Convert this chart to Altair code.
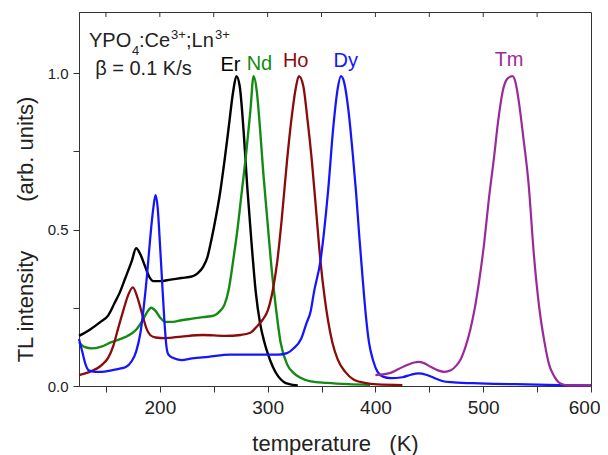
import altair as alt
import pandas as pd

# ---- data ----
er_T = [125, 135, 145, 152, 158, 163, 168, 174, 178, 182, 186, 190, 194, 200, 210, 220, 230, 235, 240, 244, 248, 252, 256, 260, 264, 268, 271, 274, 278, 281, 285, 289, 293, 297, 300, 305, 310, 315, 320, 328]
er_I = [0.16, 0.18, 0.205, 0.225, 0.265, 0.30, 0.345, 0.40, 0.44, 0.42, 0.385, 0.35, 0.335, 0.335, 0.34, 0.345, 0.35, 0.36, 0.38, 0.41, 0.47, 0.54, 0.62, 0.72, 0.83, 0.94, 0.99, 0.96, 0.80, 0.64, 0.46, 0.30, 0.20, 0.14, 0.105, 0.06, 0.03, 0.013, 0.006, 0.002]

nd_T = [125, 130, 137, 145, 155, 163, 170, 178, 184, 188, 192, 196, 200, 205, 212, 220, 230, 240, 250, 256, 260, 264, 268, 272, 276, 280, 284, 287, 290, 293, 296, 300, 303, 307, 312, 318, 324, 330, 340, 355, 375, 395]
nd_I = [0.14, 0.125, 0.12, 0.125, 0.14, 0.15, 0.16, 0.18, 0.21, 0.235, 0.25, 0.24, 0.22, 0.205, 0.205, 0.21, 0.215, 0.22, 0.225, 0.24, 0.26, 0.31, 0.40, 0.50, 0.62, 0.74, 0.88, 0.99, 0.94, 0.82, 0.68, 0.52, 0.40, 0.27, 0.14, 0.07, 0.042, 0.027, 0.015, 0.01, 0.006, 0.004]

ho_T = [125, 135, 146, 152, 157, 161, 166, 170, 175, 179, 184, 188, 191, 196, 205, 220, 240, 260, 275, 284, 290, 295, 300, 305, 309, 313, 318, 322, 326, 329, 333, 337, 341, 345, 349, 353, 356, 360, 365, 372, 380, 390, 402, 425]
ho_I = [0.035, 0.045, 0.067, 0.09, 0.13, 0.18, 0.24, 0.285, 0.315, 0.285, 0.225, 0.18, 0.163, 0.155, 0.153, 0.158, 0.163, 0.16, 0.163, 0.17, 0.19, 0.21, 0.24, 0.31, 0.40, 0.53, 0.72, 0.85, 0.95, 0.99, 0.96, 0.85, 0.72, 0.56, 0.40, 0.28, 0.21, 0.14, 0.085, 0.045, 0.02, 0.01, 0.005, 0.003]

dy_T = [125, 128, 131, 134, 140, 146, 155, 162, 168, 174, 178, 182, 185, 188, 191, 194, 196, 198, 200, 202, 204, 206, 208, 212, 220, 230, 245, 265, 290, 310, 318, 324, 331, 336, 340, 343, 349, 356, 361, 365, 368, 371, 375, 379, 382, 385, 388, 391, 394, 398, 402, 407, 414, 425, 433, 440, 447, 455, 462, 470, 490, 510, 540, 570, 600]
dy_I = [0.15, 0.11, 0.07, 0.05, 0.045, 0.045, 0.05, 0.055, 0.06, 0.08, 0.11, 0.17, 0.25, 0.35, 0.47, 0.57, 0.61, 0.57, 0.46, 0.34, 0.22, 0.13, 0.10, 0.09, 0.083, 0.088, 0.093, 0.10, 0.10, 0.10, 0.105, 0.12, 0.15, 0.20, 0.24, 0.30, 0.40, 0.62, 0.83, 0.95, 0.99, 0.97, 0.88, 0.74, 0.62, 0.48, 0.35, 0.23, 0.14, 0.08, 0.045, 0.03, 0.025, 0.028, 0.036, 0.04, 0.036, 0.025, 0.016, 0.012, 0.009, 0.007, 0.005, 0.003, 0.002]

tm_T = [400, 407, 414, 422, 430, 436, 440, 445, 452, 458, 464, 470, 475, 479, 484, 488, 492, 496, 501, 505, 510, 514, 518, 522, 527, 530, 533, 537, 542, 547, 552, 557, 561, 566, 570, 575, 580, 600]
tm_I = [0.035, 0.037, 0.042, 0.055, 0.068, 0.075, 0.077, 0.073, 0.06, 0.05, 0.045, 0.05, 0.065, 0.085, 0.13, 0.18, 0.245, 0.33, 0.46, 0.59, 0.73, 0.85, 0.94, 0.98, 0.99, 0.97, 0.91, 0.80, 0.65, 0.42, 0.25, 0.137, 0.07, 0.03, 0.012, 0.004, 0.002, 0.002]

series_names = ["Er", "Nd", "Ho", "Dy", "Tm"]
series_colors = ["#000000", "#138a13", "#8b0a0a", "#1414ff", "#9a2a9a"]
series_widths = [2.4, 2.2, 2.0, 1.8, 1.7]
label_T = [265.5, 292.4, 326.0, 372.4, 524.0]
label_I = [1.006, 1.010, 1.019, 1.019, 1.022]

x_ticks = [150, 200, 250, 300, 350, 400, 450, 500, 550, 600]
top_ticks = [150, 200, 250, 300, 350, 400, 450, 500, 550]
y_ticks = [0.0, 0.25, 0.5, 0.75, 1.0]

# ---- build table ----
rows = []
for name, Ts, Is in zip(series_names, [er_T, nd_T, ho_T, dy_T, tm_T], [er_I, nd_I, ho_I, dy_I, tm_I]):
    for k, (t, v) in enumerate(zip(Ts, Is)):
        rows.append({"T": t, "I": v, "series": name, "idx": k})
df = pd.DataFrame(rows)
labels_df = pd.DataFrame({"T": label_T, "I": label_I, "series": series_names})

FONT = "Liberation Sans"
NB = "\u00a0"
xscale = alt.Scale(domain=[125, 600], nice=False, zero=False)
yscale = alt.Scale(domain=[0, 1.195], nice=False, zero=False)
cscale = alt.Scale(domain=series_names, range=series_colors)
wscale = alt.Scale(domain=series_names, range=series_widths)

lines = alt.Chart(df).mark_line(interpolate="monotone").encode(
    x=alt.X("T:Q", scale=xscale, axis=alt.Axis(
        values=x_ticks, labelExpr="datum.value % 100 == 0 ? datum.value : ''",
        title="temperature" + NB * 3 + "(K)", titleFontSize=22, titleFont=FONT,
        titleFontWeight="normal", titleY=64, titleBaseline="alphabetic",
        labelFontSize=19, labelFont=FONT, labelPadding=6, tickSize=6,
        labelFlush=True, labelFlushOffset=9, labelOverlap=False)),
    y=alt.Y("I:Q", scale=yscale, axis=alt.Axis(
        values=y_ticks, labelExpr="datum.value % 0.5 == 0 ? format(datum.value, '.1f') : ''",
        title="TL intensity" + NB * 8 + "(arb. units)", titleFontSize=22, titleFont=FONT,
        titleFontWeight="normal", titleX=-47, titleY=217, titleBaseline="alphabetic",
        labelFontSize=15, labelFont=FONT, labelPadding=5, tickSize=6, labelOverlap=False)),
    color=alt.Color("series:N", scale=cscale, legend=None),
    strokeWidth=alt.StrokeWidth("series:N", scale=wscale, legend=None),
    detail="series:N",
    order="idx:Q",
)

labels = alt.Chart(labels_df).mark_text(fontSize=20, font=FONT, align="center", baseline="alphabetic").encode(
    x=alt.X("T:Q", scale=xscale),
    y=alt.Y("I:Q", scale=yscale),
    color=alt.Color("series:N", scale=cscale, legend=None),
    text="series:N",
)

top = alt.Chart(pd.DataFrame({"T": top_ticks})).mark_rule(color="#333333", strokeWidth=1).encode(
    x=alt.X("T:Q", scale=xscale), y=alt.value(0), y2=alt.value(5))

# title annotation: YPO4:Ce3+;Ln3+  and  beta = 0.1 K/s
anchor = pd.DataFrame({"T": [134.3], "I": [1.083]})
pieces = [("YPO", 0, 0, 20), ("4", 43, 8, 13), (":Ce", 50, 0, 20), ("3+", 82, -8, 13), (";Ln", 97, 0, 20), ("3+", 126, -8, 13)]
ann = []
for txt, dx, dy, sz in pieces:
    ann.append(alt.Chart(anchor).mark_text(text=txt, dx=dx, dy=dy, fontSize=sz, font=FONT, align="left",
                                           baseline="alphabetic", color="#222222").encode(
        x=alt.X("T:Q", scale=xscale), y=alt.Y("I:Q", scale=yscale)))
beta = alt.Chart(pd.DataFrame({"T": [140.0], "I": [0.994]})).mark_text(
    text="\u03b2 = 0.1 K/s", fontSize=20, font=FONT, align="left", baseline="alphabetic", color="#222222").encode(
    x=alt.X("T:Q", scale=xscale), y=alt.Y("I:Q", scale=yscale))

chart = alt.layer(lines, labels, top, beta, *ann).properties(
    width=512, height=374,
    autosize=alt.AutoSizeParams(type="none"),
    padding={"left": 71, "top": 4, "right": 9, "bottom": 69},
).configure_view(stroke="#333333", strokeWidth=1).configure_axis(
    grid=False, domainColor="#333333", tickColor="#333333", labelColor="#222222", titleColor="#222222",
)

chart.save("out.html", embed_options={"renderer": "svg", "actions": False})
